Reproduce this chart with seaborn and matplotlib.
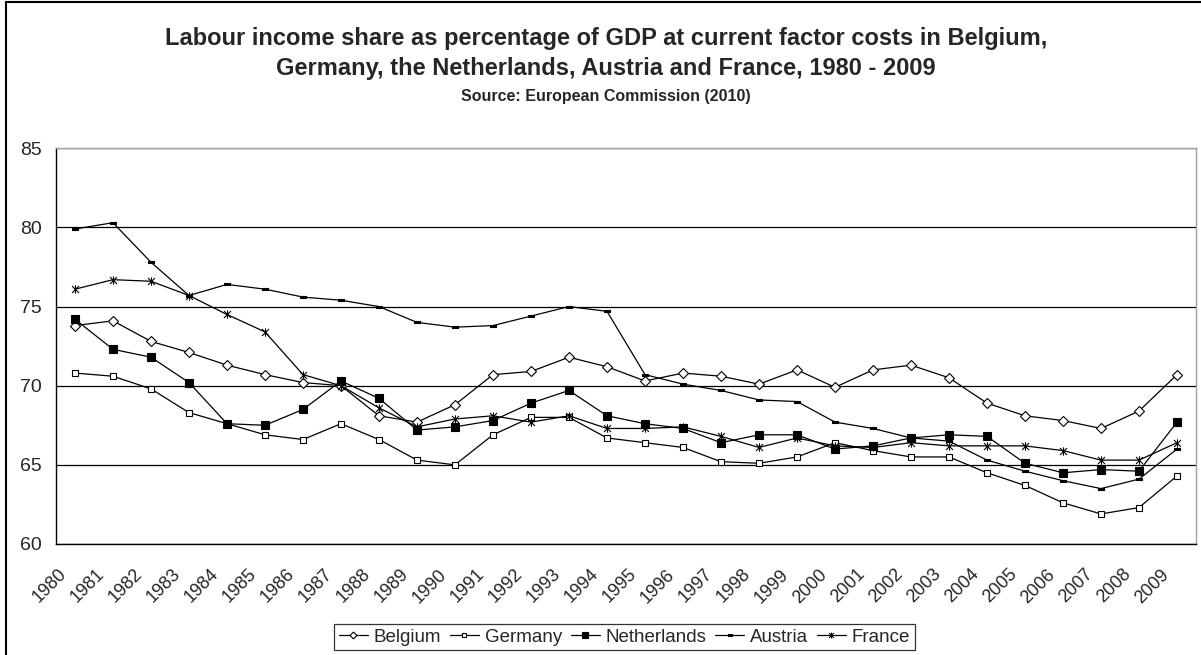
import numpy as np
import pandas as pd
import seaborn as sns
import matplotlib.pyplot as plt
from matplotlib.path import Path
from matplotlib.patches import Rectangle
from matplotlib.transforms import ScaledTranslation

years = list(range(1980, 2010))
belgium = [73.8, 74.1, 72.8, 72.1, 71.3, 70.7, 70.2, 70.0, 68.1, 67.7,
           68.8, 70.7, 70.9, 71.8, 71.2, 70.3, 70.8, 70.6, 70.1, 71.0,
           69.9, 71.0, 71.3, 70.5, 68.9, 68.1, 67.8, 67.3, 68.4, 70.7]
germany = [70.8, 70.6, 69.8, 68.3, 67.6, 66.9, 66.6, 67.6, 66.6, 65.3,
           65.0, 66.9, 68.0, 68.0, 66.7, 66.4, 66.1, 65.2, 65.1, 65.5,
           66.4, 65.9, 65.5, 65.5, 64.5, 63.7, 62.6, 61.9, 62.3, 64.3]
netherlands = [74.2, 72.3, 71.8, 70.2, 67.6, 67.5, 68.5, 70.3, 69.2, 67.2,
               67.4, 67.8, 68.9, 69.7, 68.1, 67.6, 67.3, 66.4, 66.9, 66.9,
               66.0, 66.2, 66.7, 66.9, 66.8, 65.1, 64.5, 64.7, 64.6, 67.7]
austria = [79.9, 80.3, 77.8, 75.7, 76.4, 76.1, 75.6, 75.4, 75.0, 74.0,
           73.7, 73.8, 74.4, 75.0, 74.7, 70.7, 70.1, 69.7, 69.1, 69.0,
           67.7, 67.3, 66.7, 66.5, 65.3, 64.6, 64.0, 63.5, 64.1, 66.0]
france = [76.1, 76.7, 76.6, 75.7, 74.5, 73.4, 70.7, 70.0, 68.6, 67.4,
          67.9, 68.1, 67.7, 68.1, 67.3, 67.3, 67.4, 66.8, 66.1, 66.7,
          66.2, 66.1, 66.4, 66.2, 66.2, 66.2, 65.9, 65.3, 65.3, 66.4]
countries = ['Belgium', 'Germany', 'Netherlands', 'Austria', 'France']
series = [belgium, germany, netherlands, austria, france]

sns.set_style('white')
plt.rcParams['font.family'] = ['Liberation Sans', 'DejaVu Sans']

# excel-like markers: asterisk star and small dash
star = Path([(-1, -1), (1, 1), (-1, 1), (1, -1), (0, -1.2), (0, 1.2)],
            [Path.MOVETO, Path.LINETO] * 3)
dash = Path([(-1, -0.4), (1, -0.4), (1, 0.4), (-1, 0.4), (-1, -0.4)],
            [Path.MOVETO, Path.LINETO, Path.LINETO, Path.LINETO, Path.CLOSEPOLY])
styles = {
    'Belgium': ('D', 5.0, 'white'),
    'Germany': ('s', 4.8, 'white'),
    'Netherlands': ('s', 5.2, 'black'),
    'Austria': (dash, 4.0, 'black'),
    'France': (star, 6.0, 'none'),
}

fig = plt.figure(figsize=(12.01, 6.55), dpi=100)
ax = fig.add_axes([56 / 1201, 1 - 544 / 655, 1140 / 1201, (544 - 148.3) / 655])

for name, vals in zip(countries, series):
    df = pd.DataFrame({'Year': years, 'Share': vals})
    mk, ms, mfc = styles[name]
    sns.lineplot(data=df, x='Year', y='Share', ax=ax, color='black', lw=0.9,
                 label=name, marker=mk, markersize=ms, markerfacecolor=mfc,
                 markeredgecolor='black', markeredgewidth=0.8)

ax.set_xlim(1979.5, 2009.5)
ax.set_ylim(60, 85)
ax.set_yticks(range(60, 86, 5))
ax.yaxis.grid(True, color='black', lw=0.9)
ax.set_xlabel('')
ax.set_ylabel('')

ax.set_xticks(years)
ax.set_xticklabels([str(y) for y in years], rotation=45, ha='right', va='center',
                   rotation_mode='anchor', fontsize=13)
ax.set_xticks(np.arange(1979.5, 2010, 1), minor=True)
ax.tick_params(axis='x', which='major', length=0, pad=20)
ax.tick_params(axis='x', which='minor', length=4.3, width=0.9, color='black', direction='out')
ax.tick_params(axis='y', length=4.3, width=0.9, color='black', direction='out',
               labelsize=14, pad=5.8)
for lab in ax.get_xticklabels():
    lab.set_transform(lab.get_transform() + ScaledTranslation(-11 / 100, 0, fig.dpi_scale_trans))

for side in ['left', 'bottom']:
    ax.spines[side].set_color('black')
    ax.spines[side].set_linewidth(1.0)
for side in ['top', 'right']:
    ax.spines[side].set_color('#a0a0a0')
    ax.spines[side].set_linewidth(1.0)

handles, labels = ax.get_legend_handles_labels()
leg = ax.legend(handles, labels, loc='center', bbox_to_anchor=(624.5 / 1201, 1 - 637 / 655),
                bbox_transform=fig.transFigure, ncol=5, frameon=True, fancybox=False,
                edgecolor='black', fontsize=13.5, handlelength=1.55, handletextpad=0.32,
                columnspacing=0.45, borderpad=0.25, markerscale=0.7)
leg.get_frame().set_linewidth(0.9)

fig.text(606 / 1201, 1 - 45 / 655,
         'Labour income share as percentage of GDP at current factor costs in Belgium,',
         ha='center', va='baseline', fontsize=17, fontweight='bold')
fig.text(606 / 1201, 1 - 75.5 / 655,
         'Germany, the Netherlands, Austria and France, 1980 - 2009',
         ha='center', va='baseline', fontsize=17, fontweight='bold')
fig.text(606 / 1201, 1 - 101 / 655, 'Source: European Commission (2010)',
         ha='center', va='baseline', fontsize=11.5, fontweight='bold')

# chart area border (runs off the right and bottom edge like the original)
fig.add_artist(Rectangle((6 / 1201, -0.1), 1.2, 1.1 - 2.5 / 655, transform=fig.transFigure,
                         fill=False, edgecolor='black', lw=1.5))

fig.savefig('out.png', dpi=100)
